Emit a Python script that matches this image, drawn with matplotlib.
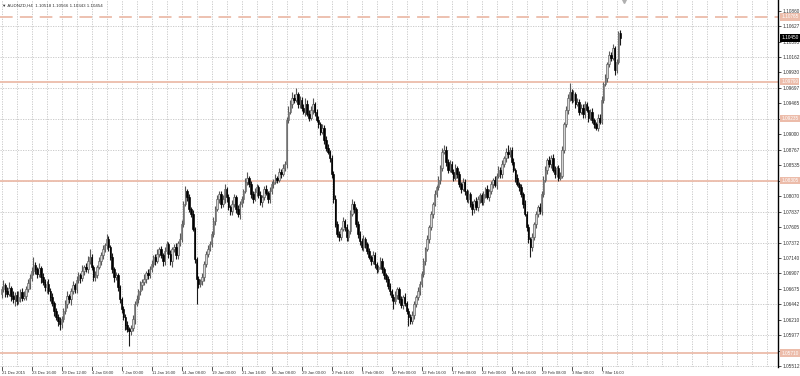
import numpy as np
import matplotlib.pyplot as plt
from matplotlib.transforms import blended_transform_factory

plt.rcParams['font.family'] = ['Liberation Sans', 'DejaVu Sans']

# AUDNZD H4, prices in points (1/10000)
first_open = 10660
closes = [
    10667, 10673, 10664, 10660, 10669, 10657, 10652, 10658, 10649, 10655, 10663, 10654, 10657, 10667, 10676, 10684,
    10694, 10703, 10697, 10690, 10699, 10685, 10678, 10670, 10675, 10664, 10655, 10646, 10634, 10625, 10619, 10615,
    10622, 10634, 10645, 10657, 10652, 10664, 10673, 10667, 10681, 10688, 10684, 10694, 10700, 10697, 10709, 10715,
    10700, 10685, 10688, 10700, 10709, 10718, 10727, 10733, 10742, 10730, 10715, 10697, 10685, 10688, 10670, 10652,
    10637, 10625, 10613, 10607, 10604, 10609, 10622, 10645, 10652, 10664, 10673, 10678, 10682, 10691, 10688, 10697,
    10705, 10715, 10709, 10720, 10727, 10718, 10709, 10724, 10735, 10720, 10709, 10727, 10730, 10718, 10736, 10742,
    10765, 10795, 10814, 10805, 10787, 10780, 10757, 10712, 10682, 10675, 10679, 10685, 10705, 10720, 10727, 10735,
    10750, 10769, 10787, 10802, 10810, 10795, 10802, 10817, 10805, 10790, 10784, 10795, 10805, 10787, 10780, 10795,
    10802, 10814, 10829, 10835, 10825, 10810, 10802, 10813, 10820, 10808, 10798, 10805, 10817, 10811, 10802, 10814,
    10825, 10829, 10835, 10832, 10844, 10840, 10850, 10855, 10922, 10934, 10945, 10955, 10952, 10960, 10945, 10952,
    10940, 10934, 10946, 10930, 10925, 10937, 10945, 10933, 10922, 10915, 10904, 10910, 10892, 10880, 10874, 10865,
    10840, 10802, 10765, 10750, 10745, 10757, 10769, 10760, 10745, 10754, 10780, 10795, 10787, 10765, 10750, 10739,
    10730, 10742, 10735, 10724, 10715, 10709, 10718, 10705, 10697, 10700, 10709, 10697, 10688, 10682, 10672, 10664,
    10655, 10649, 10658, 10667, 10652, 10643, 10655, 10646, 10634, 10625, 10619, 10628, 10645, 10655, 10664, 10675,
    10690, 10709, 10727, 10742, 10760, 10780, 10795, 10810, 10820, 10832, 10850, 10874, 10877, 10859, 10847, 10855,
    10844, 10835, 10850, 10840, 10825, 10817, 10828, 10814, 10802, 10810, 10795, 10787, 10799, 10790, 10802, 10808,
    10798, 10810, 10817, 10805, 10814, 10825, 10832, 10823, 10838, 10847, 10840, 10855, 10865, 10874, 10870, 10877,
    10859, 10847, 10835, 10825, 10820, 10810, 10795, 10780, 10760, 10742, 10730, 10745, 10765, 10780, 10790, 10784,
    10810, 10832, 10847, 10862, 10855, 10865, 10847, 10840, 10850, 10835, 10838, 10877, 10915, 10937, 10955, 10964,
    10952, 10960, 10945, 10949, 10934, 10940, 10930, 10946, 10937, 10925, 10934, 10922, 10915, 10910, 10925, 10919,
    10952, 10975, 10985, 11005, 11020, 11015, 11030, 10997, 11009, 11052, 11045,
]
highs = [
    10672, 10681, 10677, 10670, 10678, 10672, 10664, 10663, 10664, 10665, 10667, 10669, 10665, 10672, 10683, 10690,
    10700, 10715, 10708, 10701, 10707, 10702, 10691, 10683, 10679, 10682, 10669, 10661, 10649, 10639, 10629, 10625,
    10627, 10638, 10651, 10665, 10660, 10669, 10680, 10677, 10687, 10693, 10691, 10703, 10704, 10706, 10717, 10727,
    10720, 10704, 10694, 10703, 10716, 10723, 10733, 10737, 10750, 10747, 10734, 10721, 10700, 10693, 10692, 10673,
    10655, 10642, 10629, 10619, 10610, 10613, 10628, 10650, 10659, 10668, 10679, 10683, 10690, 10695, 10697, 10702,
    10711, 10719, 10720, 10727, 10730, 10732, 10722, 10730, 10740, 10738, 10726, 10731, 10735, 10737, 10740, 10751,
    10771, 10800, 10822, 10818, 10810, 10790, 10786, 10761, 10715, 10687, 10683, 10691, 10710, 10724, 10733, 10740,
    10754, 10775, 10792, 10809, 10815, 10814, 10808, 10825, 10820, 10810, 10794, 10801, 10810, 10808, 10793, 10799,
    10807, 10818, 10835, 10843, 10838, 10830, 10814, 10819, 10825, 10823, 10814, 10809, 10822, 10824, 10815, 10820,
    10830, 10833, 10841, 10838, 10849, 10848, 10856, 10860, 10926, 10942, 10951, 10964, 10960, 10970, 10964, 10958,
    10956, 10946, 10954, 10951, 10937, 10943, 10954, 10949, 10938, 10928, 10918, 10915, 10914, 10898, 10885, 10877,
    10869, 10845, 10808, 10769, 10755, 10760, 10775, 10773, 10765, 10758, 10786, 10803, 10800, 10790, 10769, 10755,
    10744, 10748, 10746, 10738, 10729, 10719, 10724, 10723, 10708, 10704, 10715, 10714, 10701, 10691, 10687, 10676,
    10668, 10660, 10664, 10671, 10670, 10657, 10659, 10661, 10649, 10639, 10629, 10634, 10650, 10659, 10670, 10680,
    10694, 10714, 10730, 10748, 10764, 10785, 10798, 10816, 10824, 10837, 10854, 10880, 10884, 10882, 10863, 10861,
    10860, 10848, 10856, 10853, 10845, 10829, 10834, 10833, 10818, 10816, 10813, 10800, 10803, 10805, 10807, 10812,
    10812, 10815, 10820, 10823, 10818, 10830, 10835, 10838, 10842, 10852, 10851, 10861, 10868, 10879, 10884, 10881,
    10881, 10864, 10850, 10841, 10829, 10825, 10813, 10801, 10784, 10765, 10746, 10751, 10768, 10785, 10794, 10796,
    10814, 10837, 10853, 10865, 10867, 10869, 10871, 10852, 10853, 10854, 10844, 10882, 10919, 10943, 10960, 10977,
    10968, 10966, 10963, 10954, 10953, 10946, 10945, 10950, 10949, 10942, 10938, 10940, 10925, 10919, 10930, 10931,
    10957, 10979, 10991, 11008, 11025, 11024, 11036, 11033, 11014, 11056, 11057,
]
lows = [
    10654, 10663, 10655, 10655, 10657, 10649, 10646, 10642, 10644, 10645, 10648, 10649, 10651, 10651, 10663, 10668,
    10680, 10689, 10690, 10684, 10686, 10677, 10673, 10664, 10661, 10660, 10649, 10641, 10627, 10620, 10611, 10605,
    10609, 10617, 10630, 10638, 10647, 10644, 10660, 10661, 10662, 10677, 10677, 10679, 10688, 10693, 10692, 10705,
    10696, 10679, 10680, 10684, 10697, 10703, 10713, 10723, 10728, 10724, 10711, 10692, 10678, 10681, 10664, 10647,
    10631, 10620, 10606, 10603, 10582, 10598, 10604, 10614, 10641, 10646, 10659, 10666, 10674, 10677, 10682, 10684,
    10693, 10700, 10703, 10706, 10715, 10714, 10702, 10704, 10720, 10714, 10704, 10701, 10723, 10713, 10712, 10732,
    10738, 10760, 10792, 10799, 10783, 10775, 10754, 10706, 10645, 10669, 10671, 10674, 10679, 10701, 10715, 10724,
    10730, 10746, 10763, 10784, 10797, 10789, 10791, 10797, 10798, 10786, 10778, 10779, 10791, 10781, 10775, 10773,
    10791, 10796, 10811, 10824, 10821, 10804, 10797, 10799, 10807, 10804, 10793, 10791, 10801, 10808, 10796, 10797,
    10810, 10819, 10826, 10827, 10828, 10834, 10837, 10845, 10849, 10917, 10930, 10939, 10947, 10948, 10939, 10940,
    10935, 10930, 10928, 10927, 10920, 10921, 10931, 10928, 10918, 10909, 10899, 10900, 10886, 10875, 10870, 10859,
    10835, 10796, 10761, 10745, 10739, 10741, 10754, 10755, 10739, 10740, 10750, 10777, 10782, 10761, 10744, 10734,
    10726, 10725, 10729, 10720, 10712, 10704, 10705, 10699, 10692, 10693, 10697, 10692, 10682, 10678, 10667, 10658,
    10650, 10637, 10645, 10652, 10647, 10639, 10637, 10641, 10630, 10612, 10614, 10615, 10622, 10640, 10651, 10658,
    10670, 10686, 10703, 10724, 10737, 10756, 10774, 10792, 10805, 10816, 10826, 10845, 10870, 10853, 10842, 10843,
    10840, 10830, 10832, 10834, 10821, 10812, 10814, 10808, 10798, 10797, 10791, 10779, 10782, 10786, 10784, 10797,
    10793, 10794, 10804, 10802, 10800, 10810, 10819, 10820, 10818, 10834, 10834, 10835, 10851, 10859, 10865, 10866,
    10854, 10843, 10829, 10822, 10815, 10806, 10789, 10777, 10755, 10736, 10715, 10725, 10741, 10759, 10775, 10780,
    10779, 10806, 10829, 10841, 10851, 10850, 10844, 10834, 10836, 10830, 10831, 10835, 10872, 10911, 10931, 10950,
    10947, 10948, 10939, 10942, 10929, 10930, 10924, 10925, 10933, 10919, 10922, 10917, 10909, 10906, 10905, 10915,
    10915, 10947, 10972, 10979, 11001, 11010, 11012, 10989, 10992, 11005, 11034,
]

date_labels = ["21 Dec 2015", "23 Dec 16:00", "29 Dec 12:00", "4 Jan 08:00", "7 Jan 00:00",
               "11 Jan 16:00", "14 Jan 08:00", "19 Jan 00:00", "21 Jan 16:00", "26 Jan 08:00",
               "29 Jan 00:00", "2 Feb 16:00", "5 Feb 08:00", "10 Feb 00:00", "12 Feb 16:00",
               "17 Feb 08:00", "22 Feb 00:00", "24 Feb 16:00", "29 Feb 08:00", "3 Mar 00:00",
               "7 Mar 16:00"]
bars_per_label = 16

price_ticks = [1.10860, 1.10627, 1.10395, 1.10162, 1.09930, 1.09697, 1.09465, 1.09232,
               1.09000, 1.08767, 1.08535, 1.08302, 1.08070, 1.07837, 1.07605, 1.07372,
               1.07140, 1.06907, 1.06675, 1.06442, 1.06210, 1.05977, 1.05745, 1.05512]

# horizontal levels drawn on the chart
level_prices = [1.10765, 1.09790, 1.09235, 1.08305, 1.05710]
level_dashed = [True, False, None, False, False]   # None = label only

title_text = "AUDNZD,H4  1.10518 1.10566 1.10343 1.10454"

# ---- build candles
c = np.array(closes) / 1e4
o = np.array([first_open] + closes[:-1]) / 1e4
h = np.array(highs) / 1e4
l = np.array(lows) / 1e4
x = np.arange(len(c))
up = c >= o

fig = plt.figure(figsize=(8, 3.76), dpi=100)
ax = fig.add_axes([0, 9 / 376, 778 / 800, 1 - 9 / 376])
ax.set_xlim(-0.8, 414.1)
ax.set_ylim(1.0550, 1.1102)

grid_kw = dict(color='#c4c4c4', lw=0.6, ls=(0, (1.5, 1.5)), zorder=0)
for gx in range(0, 415, 8):
    ax.axvline(gx, **grid_kw)
for gy in price_ticks[1::2]:
    ax.axhline(gy, **grid_kw)

level_col = '#ecbcaa'
for p, dashed in zip(level_prices, level_dashed):
    if dashed is None:
        continue
    ax.axhline(p, color=level_col, lw=1.3,
               ls=(0, (7, 4)) if dashed else '-', zorder=1)

# candles: wick, bull body light, bear body black
ax.vlines(x[up], l[up], h[up], color='#5a5a5a', lw=0.8, zorder=2)
ax.vlines(x[~up], l[~up], h[~up], color='#1a1a1a', lw=0.8, zorder=2)
ax.bar(x[up], np.maximum(c - o, 0.00003)[up], bottom=o[up], width=0.8,
       color='#d4d4d4', edgecolor='#5a5a5a', lw=0.45, zorder=3)
ax.bar(x[~up], (o - c)[~up], bottom=c[~up], width=0.8,
       color='black', edgecolor='black', lw=0.45, zorder=3)

# axes look
for s in ['top', 'left', 'bottom']:
    ax.spines[s].set_visible(False)
ax.spines['right'].set_color('black')
ax.spines['right'].set_linewidth(1.0)
ax.yaxis.tick_right()
ax.set_yticks(price_ticks)
# labels hidden under the level boxes
tick_texts = []
for p in price_ticks:
    covered = any(abs(p - lp) < 0.0005 for lp in level_prices[1:])
    tick_texts.append("" if covered else f"{p:.5f}")
ax.set_yticklabels(tick_texts)
ax.tick_params(axis='y', direction='out', length=2, width=0.6, pad=1,
               labelsize=3.4, labelcolor='#333333', color='#333333')
ax.set_xticks([])

# time scale
tr = blended_transform_factory(ax.transData, ax.transAxes)
for i, lab in enumerate(date_labels):
    bx = i * bars_per_label
    ax.plot([bx, bx], [0, -0.008], color='#333333', lw=0.6, transform=tr, clip_on=False)
    ax.text(bx + 0.5, -0.011, lab, transform=tr, fontsize=3.0, color='#333333',
            ha='left', va='top')

# level labels on the price scale
ytr = blended_transform_factory(ax.transAxes, ax.transData)
for p in level_prices:
    ax.text(1.004, p, f"{p:.5f}", transform=ytr, fontsize=3.4, color='white',
            ha='left', va='center', zorder=5,
            bbox=dict(boxstyle='square,pad=0.25', fc=level_col, ec='none'))
ax.text(1.004, c[-1], f"{c[-1]:.5f}", transform=ytr, fontsize=3.4, color='white',
        ha='left', va='center', zorder=6,
        bbox=dict(boxstyle='square,pad=0.25', fc='black', ec='none'))

# title and shift marker
ax.text(0.003, 0.99, "\u25bc " + title_text, transform=ax.transAxes, fontsize=3.2,
        color='#333333', ha='left', va='top')
ax.plot([len(c) + 1], [1.1102], marker='v', color='#b0b0b0', markersize=4,
        clip_on=False, zorder=6)

fig.savefig('out.png', dpi=100)
